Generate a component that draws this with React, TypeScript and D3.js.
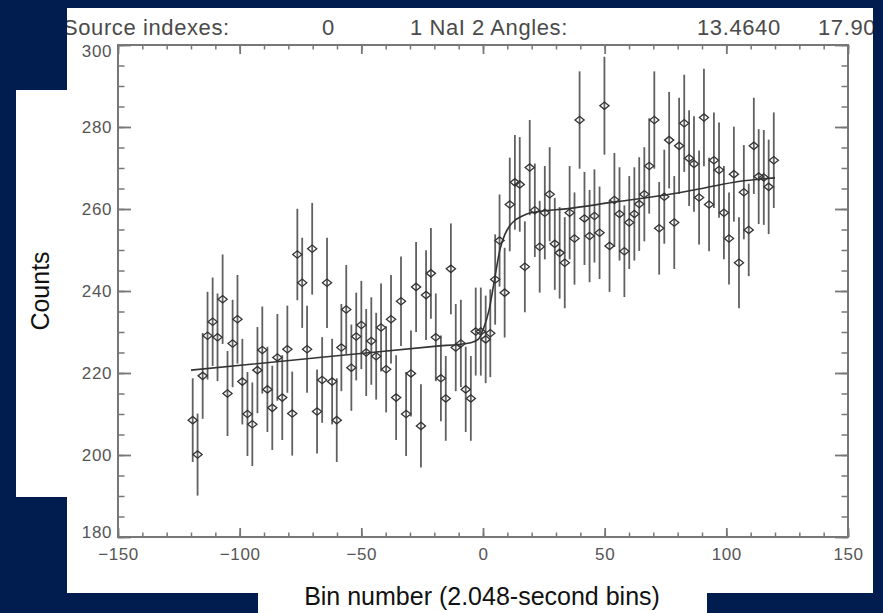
import React, { useRef, useEffect } from 'react';
import * as d3 from 'd3';

// bin positions (points sit about 2.05 bins apart)
const BINS = [
  -119.3, -117.3, -115.2, -113.2, -111.1, -109.1, -107.0, -105.0, -102.9, -100.9,
  -98.9, -96.8, -94.8, -92.7, -90.7, -88.6, -86.6, -84.5, -82.5, -80.4,
  -78.4, -76.3, -74.3, -72.3, -70.2, -68.2, -66.1, -64.1, -62.0, -60.1,
  -58.2, -56.2, -54.1, -52.1, -50.0, -48.0, -45.9, -43.9, -41.9, -39.8,
  -37.8, -35.7, -33.7, -31.6, -29.6, -27.5, -25.5, -23.4, -21.4, -19.4,
  -17.3, -15.3, -13.2, -11.2, -9.1, -7.1, -5.0, -3.0, -0.9, 1.1,
  3.0, 5.0, 6.8, 8.9, 11.0, 13.1, 15.1, 17.2, 19.2, 21.3,
  23.3, 25.4, 27.4, 29.5, 31.5, 33.6, 35.6, 37.6, 39.7, 41.7,
  43.8, 45.8, 47.9, 49.9, 52.0, 54.0, 56.1, 58.1, 60.1, 62.2,
  64.2, 66.3, 68.3, 70.4, 72.4, 74.5, 76.5, 78.6, 80.6, 82.7,
  84.7, 86.7, 88.8, 90.8, 92.9, 94.9, 97.0, 99.0, 101.1, 103.1,
  105.2, 107.2, 109.2, 111.3, 113.3, 115.4, 117.4, 119.5,
];

const COUNTS = [
  208.5, 200.1, 219.3, 229.1, 232.5, 228.7, 238.0, 215.0, 227.2, 233.1,
  217.9, 210.0, 207.5, 220.7, 225.6, 216.0, 211.5, 223.8, 214.0, 225.8,
  210.1, 248.9, 242.0, 225.8, 250.3, 210.6, 218.3, 242.0, 217.9, 208.5,
  226.2, 235.5, 221.3, 228.9, 231.7, 225.0, 227.8, 224.1, 231.1, 220.9,
  233.1, 214.0, 237.5, 210.0, 219.9, 241.0, 207.1, 239.0, 244.3, 228.7,
  218.7, 213.8, 245.4, 226.2, 227.2, 216.0, 213.8, 230.1, 230.1, 228.2,
  229.7, 242.8, 252.3, 239.6, 261.1, 266.5, 266.0, 245.9, 270.1, 259.7,
  250.8, 259.1, 263.6, 251.5, 249.3, 246.9, 259.1, 252.8, 281.7, 257.7,
  253.4, 258.3, 254.2, 285.2, 251.0, 262.2, 258.8, 249.7, 256.7, 258.8,
  261.2, 263.6, 270.5, 281.7, 255.3, 263.0, 276.8, 256.7, 275.4, 280.9,
  272.4, 271.0, 262.8, 282.3, 261.1, 271.9, 269.5, 259.1, 252.8, 268.5,
  246.9, 264.1, 254.9, 275.4, 267.9, 267.7, 265.4, 271.9,
];

// step fit drawn over the data
const FIT_BINS = [-120, -60, -20, -5, -2, 0, 2.5, 4.5, 7, 9, 11, 13, 15.5, 18, 22, 35, 55, 75, 90, 105, 120];
const FIT_COUNTS = [220.7, 224.2, 226.5, 227.4, 228.2, 230.5, 235.4, 241.9, 250.2, 253.8, 255.9, 257.2, 258.1, 258.8, 259.3, 260.1, 261.8, 263.4, 265.0, 266.7, 267.6];

const X_TICKS = [-150, -100, -50, 0, 50, 100, 150];
const Y_TICKS = [180, 200, 220, 240, 260, 280, 300];
const HEADER = ['Source indexes:', '0', '1 NaI', '2 Angles:', '13.4640', '17.90'];
const X_TITLE = 'Bin number (2.048-second bins)';
const Y_TITLE = 'Counts';

const W = 883;
const H = 613;
const NAVY = '#011c4f';
const AXIS = '#777';
const FONT = '"Liberation Sans", Arial, sans-serif';

const App = () => {
  const ref = useRef(null);

  useEffect(() => {
    document.body.style.margin = '0';
    document.body.style.background = NAVY;

    const svg = d3.select(ref.current);
    svg.selectAll('*').remove();

    svg.append('rect').attr('width', W).attr('height', H).attr('fill', NAVY);

    // white slide panels
    svg.append('rect').attr('x', 67).attr('y', 8).attr('width', 806).attr('height', 585).attr('fill', '#fff');
    svg.append('rect').attr('x', 16).attr('y', 90).attr('width', 51).attr('height', 407).attr('fill', '#fff');
    svg.append('rect').attr('x', 258).attr('y', 575).attr('width', 449).attr('height', 38).attr('fill', '#fff');

    svg.append('clipPath').attr('id', 'panel-clip')
      .append('rect').attr('x', 67).attr('y', 8).attr('width', 806).attr('height', 585);

    const x = d3.scaleLinear().domain([-150, 150]).range([118, 848]);
    const y = d3.scaleLinear().domain([180, 300]).range([537, 45]);

    // header line
    const headX = [63, 322, 410, 472, 697, 818];
    const head = svg.append('g').attr('clip-path', 'url(#panel-clip)');
    HEADER.forEach((t, i) => {
      head.append('text').attr('x', headX[i]).attr('y', 35)
        .attr('font-family', FONT).attr('font-size', 22).attr('letter-spacing', 0.6)
        .attr('fill', '#4a4a4a').text(t);
    });

    // axes: major + minor ticks pointing inward on all four sides
    const minorX = d3.range(-150, 151, 10);
    const minorY = d3.range(180, 301, 5);

    const styleAxis = (g, w) => {
      g.select('.domain').remove();
      g.selectAll('line').attr('stroke', AXIS).attr('stroke-width', w);
      g.selectAll('text').attr('fill', '#555').attr('font-family', FONT)
        .attr('font-size', 17).attr('letter-spacing', 0.6);
    };

    svg.append('g').attr('transform', 'translate(0,537)')
      .call(d3.axisBottom(x).tickValues(minorX).tickSize(-4.5).tickFormat(() => ''))
      .call((g) => styleAxis(g, 1.5));
    svg.append('g').attr('transform', 'translate(0,537)')
      .call(d3.axisBottom(x).tickValues(X_TICKS).tickSize(-9).tickPadding(11))
      .call((g) => styleAxis(g, 1.8));
    svg.append('g').attr('transform', 'translate(0,45)')
      .call(d3.axisTop(x).tickValues(minorX).tickSize(-4.5).tickFormat(() => ''))
      .call((g) => styleAxis(g, 1.5));
    svg.append('g').attr('transform', 'translate(0,45)')
      .call(d3.axisTop(x).tickValues(X_TICKS).tickSize(-9).tickFormat(() => ''))
      .call((g) => styleAxis(g, 1.8));

    svg.append('g').attr('transform', 'translate(118,0)')
      .call(d3.axisLeft(y).tickValues(minorY).tickSize(-6.5).tickFormat(() => ''))
      .call((g) => styleAxis(g, 1.5));
    const yAxis = svg.append('g').attr('transform', 'translate(118,0)')
      .call(d3.axisLeft(y).tickValues(Y_TICKS).tickSize(-13).tickPadding(6))
      .call((g) => styleAxis(g, 1.8));
    // end labels sit just inside the axis range, as in the original plot
    yAxis.selectAll('.tick').filter((d) => d === 300).select('text').attr('dy', '0.68em');
    yAxis.selectAll('.tick').filter((d) => d === 180).select('text').attr('dy', '0.02em');

    svg.append('g').attr('transform', 'translate(848,0)')
      .call(d3.axisRight(y).tickValues(minorY).tickSize(-6.5).tickFormat(() => ''))
      .call((g) => styleAxis(g, 1.5));
    svg.append('g').attr('transform', 'translate(848,0)')
      .call(d3.axisRight(y).tickValues(Y_TICKS).tickSize(-13).tickFormat(() => ''))
      .call((g) => styleAxis(g, 1.8));

    svg.append('rect').attr('x', 118).attr('y', 45).attr('width', 730).attr('height', 492)
      .attr('fill', 'none').attr('stroke', AXIS).attr('stroke-width', 2);

    const pts = BINS.map((b, i) => ({ b, c: COUNTS[i], e: Math.sqrt(COUNTS[i] / 2) })); // poisson-ish bars

    // error bars
    svg.append('g').selectAll('line').data(pts).join('line')
      .attr('x1', (d) => x(d.b)).attr('x2', (d) => x(d.b))
      .attr('y1', (d) => y(d.c - d.e)).attr('y2', (d) => y(d.c + d.e))
      .attr('stroke', '#606060').attr('stroke-width', 1.8);

    // fit curve
    const line = d3.line().x((d) => x(d[0])).y((d) => y(d[1])).curve(d3.curveMonotoneX);
    svg.append('path').datum(FIT_BINS.map((b, i) => [b, FIT_COUNTS[i]]))
      .attr('d', line).attr('fill', 'none').attr('stroke', '#333').attr('stroke-width', 1.6);

    // open diamonds
    svg.append('g').selectAll('path').data(pts).join('path')
      .attr('d', (d) => {
        const cx = x(d.b), cy = y(d.c);
        return `M${cx - 4.6},${cy}L${cx},${cy - 3.7}L${cx + 4.6},${cy}L${cx},${cy + 3.7}Z`;
      })
      .attr('fill', 'none').attr('stroke', '#333').attr('stroke-width', 1.3);

    // titles
    svg.append('text').attr('x', 482).attr('y', 605).attr('text-anchor', 'middle')
      .attr('font-family', FONT).attr('font-size', 25).attr('fill', '#111').text(X_TITLE);
    svg.append('text').attr('transform', 'translate(49,291) rotate(-90)').attr('text-anchor', 'middle')
      .attr('font-family', FONT).attr('font-size', 25).attr('fill', '#111').text(Y_TITLE);
  }, []);

  return <svg ref={ref} width={W} height={H} style={{ position: 'absolute', left: 0, top: 0 }} />;
};

export default App;
